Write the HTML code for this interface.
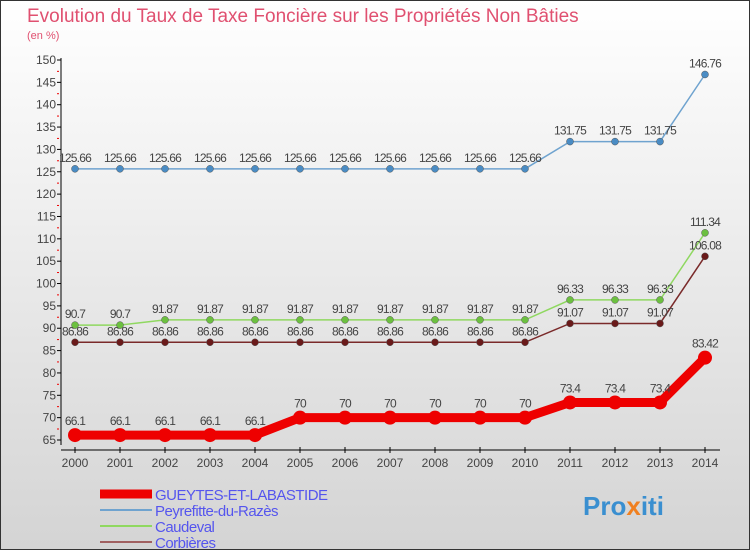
<!DOCTYPE html>
<html><head><meta charset="utf-8"><style>
body{margin:0;}
svg{display:block;font-family:"Liberation Sans",sans-serif;}
</style></head><body>
<svg id="c" width="750" height="550" xmlns="http://www.w3.org/2000/svg">
<defs><linearGradient id="bg" x1="0" y1="0" x2="0" y2="1"><stop offset="0" stop-color="#ffffff"/><stop offset="1" stop-color="#d4d4d4"/></linearGradient></defs>
<rect x="0.5" y="0.5" width="749" height="549" fill="url(#bg)" stroke="#333"/>
<text x="27" y="22" font-size="19" fill="#e05070">Evolution du Taux de Taxe Foncière sur les Propriétés Non Bâties</text>
<text x="27" y="39" font-size="11" fill="#e05070">(en %)</text>
<g id="axes"></g>
<g id="series"></g>
<g id="legend"></g>
<text x="583" y="515" font-size="26" font-weight="bold" fill="#3a8fd0">Pro<tspan fill="#f08020">x</tspan>iti</text>
</svg>
<script>
const years=[2000,2001,2002,2003,2004,2005,2006,2007,2008,2009,2010,2011,2012,2013,2014];
const yTicks=[65,70,75,80,85,90,95,100,105,110,115,120,125,130,135,140,145,150];
const names=["GUEYTES-ET-LABASTIDE","Peyrefitte-du-Razès","Caudeval","Corbières"];
const gueytes=[66.1,66.1,66.1,66.1,66.1,70,70,70,70,70,70,73.4,73.4,73.4,83.42];
const peyrefitte=[125.66,125.66,125.66,125.66,125.66,125.66,125.66,125.66,125.66,125.66,125.66,131.75,131.75,131.75,146.76];
const caudeval=[90.7,90.7,91.87,91.87,91.87,91.87,91.87,91.87,91.87,91.87,91.87,96.33,96.33,96.33,111.34];
const corbieres=[86.86,86.86,86.86,86.86,86.86,86.86,86.86,86.86,86.86,86.86,86.86,91.07,91.07,91.07,106.08];
const NS="http://www.w3.org/2000/svg";
const X=i=>75+i*45, Y=v=>60+(150-v)*(380/85);
function mk(t,a,p){const e=document.createElementNS(NS,t);for(const k in a)e.setAttribute(k,a[k]);p.appendChild(e);return e;}
const ax=document.getElementById('axes');
let l=mk('line',{x1:61,y1:58,x2:61,y2:445,stroke:'#000'},ax);


l=mk('line',{x1:61,y1:450,x2:720,y2:450,stroke:'#000'},ax);


yTicks.forEach(v=>{const y=Y(v);
 mk('line',{x1:57,y1:y,x2:61,y2:y,stroke:'#000'},ax);
 if(v<150)mk('line',{x1:57,y1:y-11,x2:59,y2:y-11,stroke:'#e00'},ax);
 const t=mk('text',{x:56,y:y+4,'font-size':12,fill:'#444','text-anchor':'end'},ax);t.textContent=v;
 
 });
years.forEach((yr,i)=>{const x=X(i);
 mk('line',{x1:x,y1:447,x2:x,y2:453,stroke:'#000'},ax);
 const t=mk('text',{x:x,y:467,'font-size':12,fill:'#444','text-anchor':'middle'},ax);t.textContent=yr;
 
 });
const sg=document.getElementById('series');
const specs=[[peyrefitte,'#6fa3cf','#4a8cc4',1.5,3.5],[caudeval,'#8fd860','#6cc040',1.5,3.5],[corbieres,'#7a2a2a','#6a1a1a',1.5,3.5],[gueytes,'#ee0000','#ee0000',9,7]];
const sn=['series-peyrefitte','series-caudeval','series-corbieres','series-gueytes'];
specs.forEach((s,k)=>{const g=mk('g',{},sg);
 
 
 mk('polyline',{points:s[0].map((v,i)=>X(i)+','+Y(v)).join(' '),fill:'none',stroke:s[1],'stroke-width':s[3]},g);
 s[0].forEach((v,i)=>{const c=mk('circle',{cx:X(i),cy:Y(v),r:s[4],fill:s[2],stroke:k<3?'#555':'none','stroke-width':0.5},g);
  
  
  const t=mk('text',{x:X(i),y:Y(v)-(k==3?10:7),'font-size':12,fill:'#444','text-anchor':'middle','letter-spacing':'-0.8'},g);t.textContent=v;
  
  });});
const lg=document.getElementById('legend');
const lc=['#ee0000','#6fa3cf','#8fd860','#a06060'],lw=[9,2,2,2];
names.forEach((n,i)=>{const y=493+i*16;const g=mk('g',{},lg);
 
 
 mk('line',{x1:100,y1:y+1,x2:152,y2:y+1,stroke:lc[i],'stroke-width':lw[i]},g);
 const t=mk('text',{x:155,y:y+7,'font-size':15,fill:'#5555ee','letter-spacing':'-0.5'},g);t.textContent=n;});
</script>
</body></html>
